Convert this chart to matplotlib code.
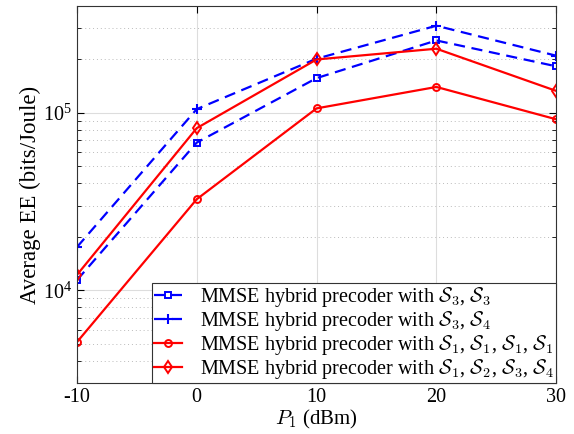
import matplotlib
matplotlib.use("Agg")
import matplotlib.pyplot as plt
from matplotlib.ticker import LogLocator, NullFormatter

x = [-10, 0, 10, 20, 30]
s33 = [1.14e4, 6.8e4, 1.57e5, 2.56e5, 1.83e5]
s34 = [1.75e4, 1.05e5, 2.02e5, 3.1e5, 2.1e5]
s1111 = [5.1e3, 3.26e4, 1.06e5, 1.40e5, 9.2e4]
s1234 = [1.22e4, 8.2e4, 2.0e5, 2.30e5, 1.33e5]
labels = [r"MMSE hybrid precoder with $\mathcal{S}_3$, $\mathcal{S}_3$",
          r"MMSE hybrid precoder with $\mathcal{S}_3$, $\mathcal{S}_4$",
          r"MMSE hybrid precoder with $\mathcal{S}_1$, $\mathcal{S}_1$, $\mathcal{S}_1$, $\mathcal{S}_1$",
          r"MMSE hybrid precoder with $\mathcal{S}_1$, $\mathcal{S}_2$, $\mathcal{S}_3$, $\mathcal{S}_4$"]
xticks = [-10, 0, 10, 20, 30]

plt.rcParams['font.family'] = ['Liberation Serif', 'DejaVu Serif']
plt.rcParams['mathtext.fontset'] = 'cm'

fig = plt.figure(figsize=(5.74, 4.34), dpi=100)
ax = fig.add_axes([0.134, 0.1175, 0.835, 0.8685])

ax.semilogy(x, s33, color='blue', ls=(0, (5, 3)), lw=1.6, marker='s', ms=4.5, mfc='none', mew=1.4, label=labels[0])
ax.semilogy(x, s34, color='blue', ls=(0, (5, 3)), lw=1.6, marker='+', ms=6.5, mew=1.5, label=labels[1])
ax.semilogy(x, s1111, color='red', ls='-', lw=1.6, marker='o', ms=5, mfc='none', mew=1.4, label=labels[2])
ax.semilogy(x, s1234, color='red', ls='-', lw=1.6, marker='d', ms=6, mfc='none', mew=1.4, label=labels[3])

ax.set_xlim(-10, 30)
ax.set_ylim(3e3, 4e5)
ax.set_xticks(xticks)
ax.set_xticklabels([str(v) for v in xticks])
ax.yaxis.set_minor_locator(LogLocator(base=10, subs=range(2, 10)))
ax.yaxis.set_minor_formatter(NullFormatter())

ax.grid(True, which='major', color='#dddddd', lw=0.8, ls='-')
ax.grid(True, which='minor', axis='y', color='#bbbbbb', lw=0.7, ls=(0, (1, 3)))
ax.set_axisbelow(True)
ax.tick_params(which='both', direction='in', top=True, right=True, labelsize=14.5)
ax.tick_params(which='major', length=5)
ax.tick_params(which='minor', length=3)
for sp in ax.spines.values():
    sp.set_color('#333333')

ax.set_xlabel(r"$P_1$ (dBm)", fontsize=15, labelpad=1)
ax.set_ylabel("Average EE (bits/Joule)", fontsize=16.5, labelpad=1)

leg = ax.legend(loc='lower right', fontsize=14.5, borderaxespad=0, fancybox=False,
                edgecolor='#333333', framealpha=1, handlelength=1.4, labelspacing=0.0,
                borderpad=0.1, handletextpad=0.9)
leg.get_frame().set_linewidth(0.8)

fig.savefig("out.png", dpi=100)
